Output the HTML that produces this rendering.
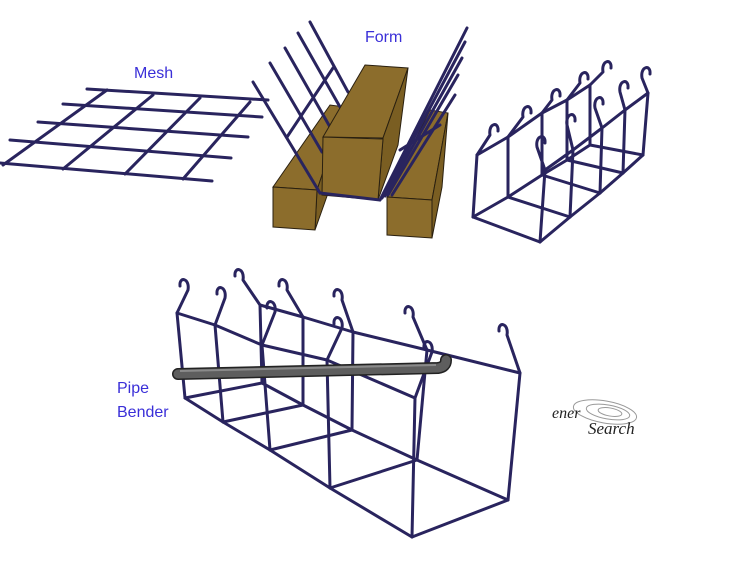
<!DOCTYPE html>
<html><head><meta charset="utf-8"><style>
html,body{margin:0;padding:0;background:#fff;width:734px;height:576px;overflow:hidden}
svg{display:block}
.l{font-family:"Liberation Sans",sans-serif;font-size:16px;fill:#3a2fd8}
</style></head><body>
<svg id="s" width="734" height="576" viewBox="0 0 734 576" xmlns="http://www.w3.org/2000/svg">
<g fill="none" stroke="#29245e" stroke-width="3" stroke-linecap="round" stroke-linejoin="round">
<line x1="87" y1="89" x2="268" y2="100"/>
<line x1="63" y1="104" x2="262" y2="117"/>
<line x1="38" y1="122" x2="248" y2="137"/>
<line x1="10" y1="140" x2="231" y2="158"/>
<line x1="0" y1="163" x2="212" y2="181"/>
<line x1="107" y1="90" x2="3" y2="165"/>
<line x1="153" y1="95" x2="63" y2="169"/>
<line x1="200" y1="98" x2="125" y2="174"/>
<line x1="250" y1="102" x2="183" y2="179"/>
</g>
<!-- side blocks -->
<g stroke="#2a2010" stroke-width="1" fill="#8c6d2c">
<polygon points="273,187 317,190 345,107 330,105"/>
<polygon points="317,190 345,107 338,165 315,230" fill="#7a5e22"/>
<polygon points="273,187 317,190 315,230 273,227"/>
<polygon points="387,197 432,200 448,113 430,110"/>
<polygon points="432,200 448,113 442,187 432,238" fill="#7a5e22"/>
<polygon points="387,197 432,200 432,238 387,235"/>
</g>
<!-- left rods over left block -->
<g fill="none" stroke="#29245e" stroke-width="3" stroke-linecap="round">
<line x1="253" y1="82" x2="320" y2="193"/>
<line x1="270" y1="63" x2="322" y2="152"/>
<line x1="285" y1="48" x2="330" y2="127"/>
<line x1="298" y1="33" x2="340" y2="107"/>
<line x1="310" y1="22" x2="348" y2="92"/>
<line x1="287" y1="137" x2="333" y2="68"/>
</g>
<!-- center block -->
<g stroke="#2a2010" stroke-width="1" fill="#8c6d2c">
<polygon points="365,65 408,68 383,138 323,137"/>
<polygon points="408,68 383,138 378,200 398,145" fill="#7a5e22"/>
<polygon points="323,137 383,139 378,200 322,195"/>
</g>
<g fill="none" stroke="#29245e" stroke-width="3" stroke-linecap="round">
<line x1="320" y1="193" x2="380" y2="200"/>
<line x1="380" y1="200" x2="467" y2="28"/>
<line x1="382" y1="198" x2="465" y2="42"/>
<line x1="385" y1="196" x2="462" y2="58"/>
<line x1="388" y1="195" x2="458" y2="75"/>
<line x1="392" y1="195" x2="455" y2="95"/>
<line x1="400" y1="150" x2="440" y2="125"/>
</g>
<g id="c" fill="none" stroke="#29245e" stroke-width="3" stroke-linecap="round" stroke-linejoin="round"></g>
<g>
<path d="M178,374 L438,368 Q446,367 446,360" fill="none" stroke="#222" stroke-width="12" stroke-linecap="round"/>
<path d="M178,374 L438,368 Q446,367 446,360" fill="none" stroke="#5e5e5e" stroke-width="9" stroke-linecap="round"/>
<path d="M180,371 L436,365" stroke="#8a8a8a" stroke-width="2"/>
</g>
<text class="l" x="134" y="78">Mesh</text>
<text class="l" x="365" y="42">Form</text>
<text class="l" x="117" y="393">Pipe</text>
<text class="l" x="117" y="417">Bender</text>
<g fill="none" stroke="#999" stroke-width="1">
<ellipse cx="605" cy="412" rx="32" ry="11" transform="rotate(10 605 412)"/>
<ellipse cx="608" cy="412" rx="22" ry="7" transform="rotate(10 608 412)"/>
<ellipse cx="610" cy="412" rx="12" ry="4" transform="rotate(10 610 412)"/>
</g>
<text x="552" y="418" font-family="Liberation Serif,serif" font-style="italic" font-size="16" fill="#222">ener</text>
<text x="588" y="434" font-family="Liberation Serif,serif" font-style="italic" font-size="17" fill="#222">Search</text>
</svg>
<script>
var g=document.getElementById('c'),s='';
function L(a,b){s+='<line x1="'+a[0]+'" y1="'+a[1]+'" x2="'+b[0]+'" y2="'+b[1]+'"/>';}
function H(p,t,d){
 s+='<path d="M'+p[0]+','+p[1]+' L'+t[0]+','+t[1]+' C'+(t[0]-d*2)+','+(t[1]-12)+' '+(t[0]+d*9)+','+(t[1]-14)+' '+(t[0]+d*8)+','+(t[1]-4)+'"/>';}
function cage(fb,ft,fh,nb,nt,nh,df,dn){
 for(var i=0;i<fb.length;i++){L(fb[i],nb[i]);L(fb[i],ft[i]);L(nb[i],nt[i]);H(ft[i],fh[i],df);H(nt[i],nh[i],dn);
  if(i){L(fb[i-1],fb[i]);L(nb[i-1],nb[i]);L(ft[i-1],ft[i]);L(nt[i-1],nt[i]);}}
}
cage([[473,217],[508,197],[542,175],[567,160],[590,145]],
 [[477,155],[508,137],[542,113],[567,100],[590,85]],
 [[490,135],[523,117],[552,100],[580,83],[603,72]],
 [[540,242],[570,217],[600,193],[623,173],[643,155]],
 [[545,170],[573,150],[602,128],[625,110],[648,93]],
 [[537,147],[567,125],[595,108],[620,92],[642,78]],1,1);
cage([[262,383],[303,405],[352,430],[417,460],[508,500]],
 [[260,305],[303,317],[353,332],[427,350],[520,373]],
 [[243,280],[287,290],[342,300],[413,317],[507,335]],
 [[185,398],[223,422],[270,450],[330,488],[412,537]],
 [[177,313],[215,325],[262,345],[327,360],[415,398]],
 [[188,290],[225,298],[275,312],[342,328],[432,352]],-1,-1);
g.innerHTML=s;
</script>
</body></html>
